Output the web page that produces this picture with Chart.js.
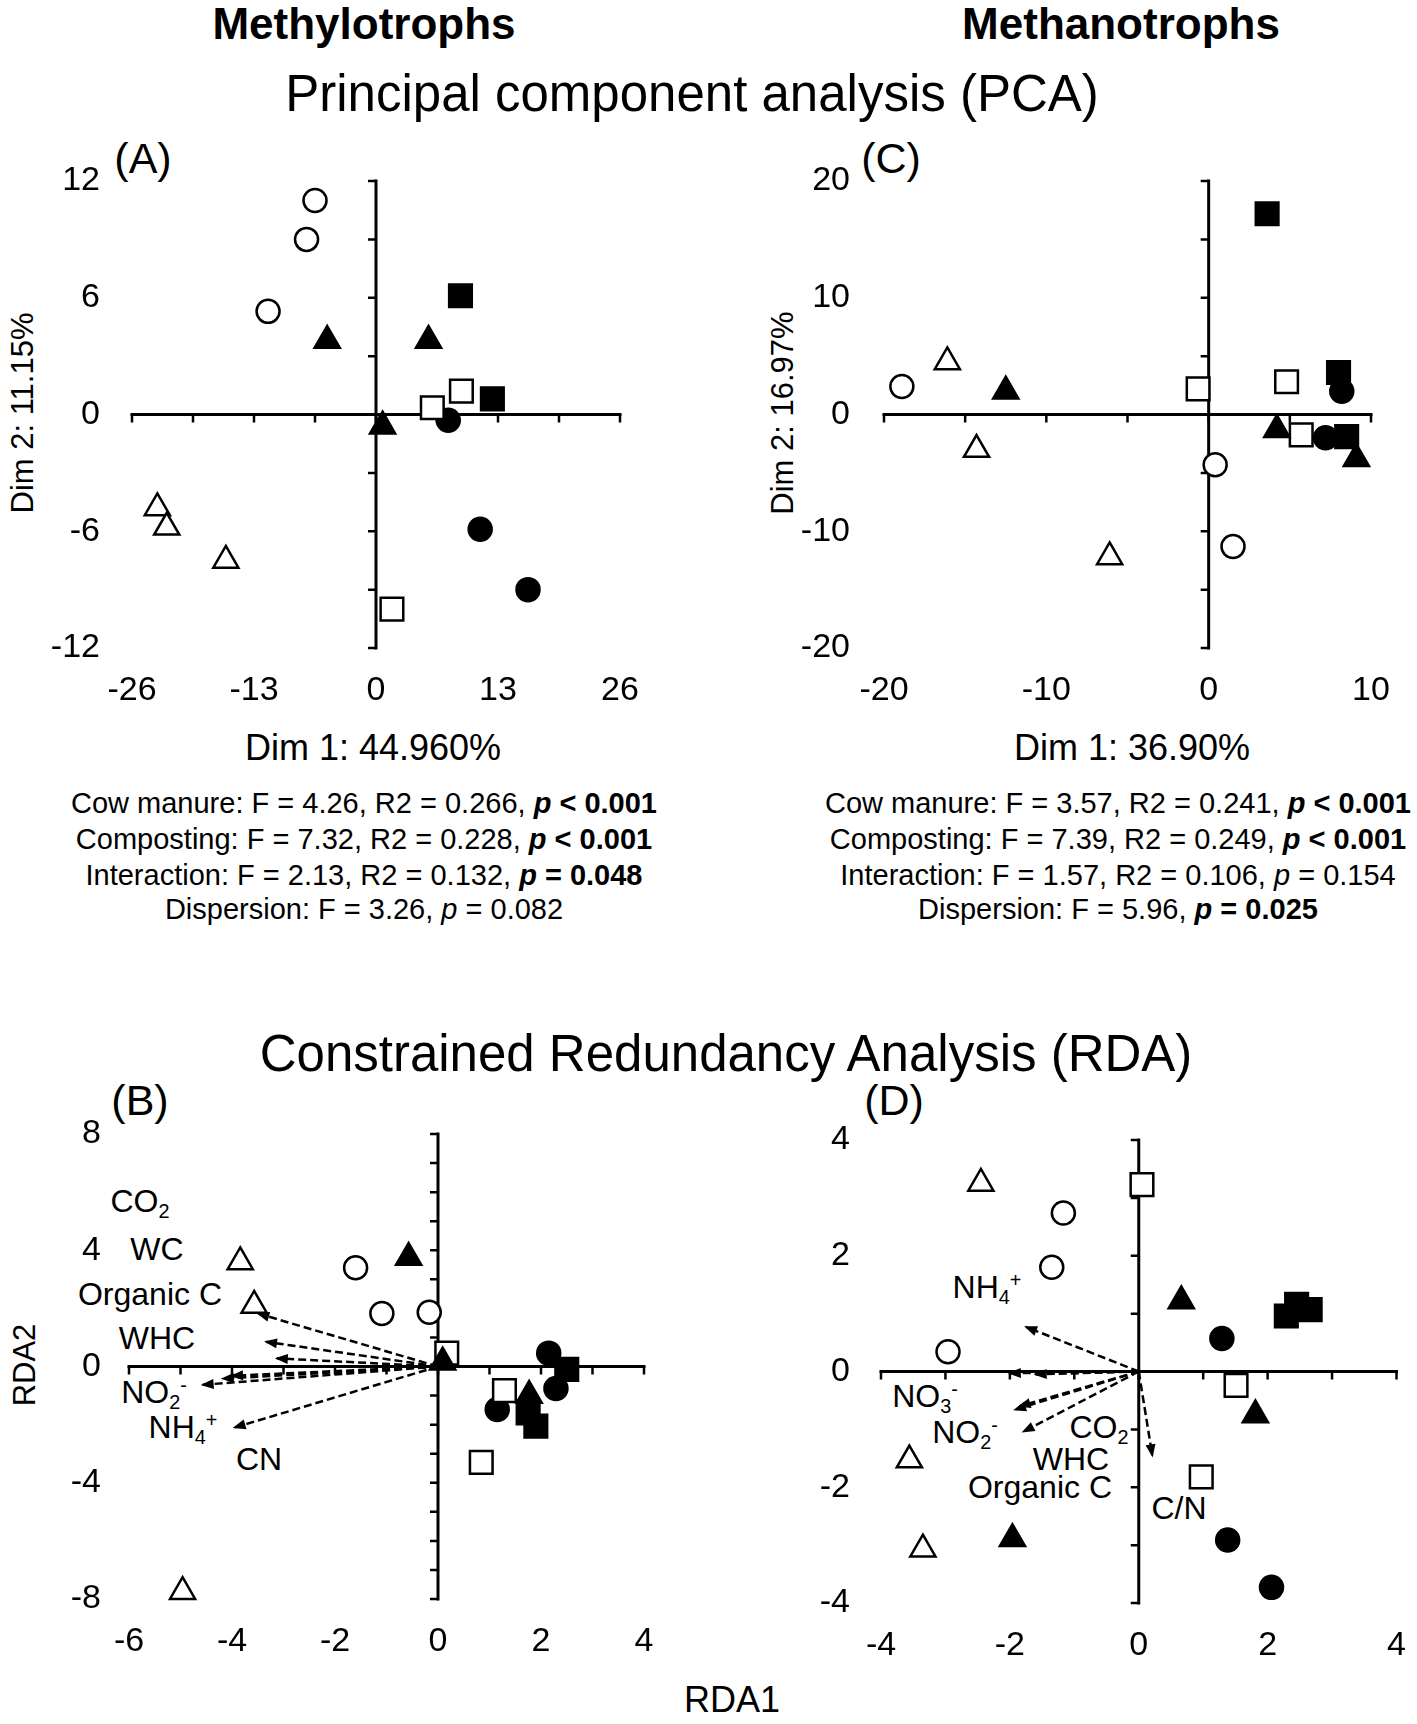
<!DOCTYPE html>
<html>
<head>
<meta charset="utf-8">
<script src="https://cdn.jsdelivr.net/npm/chart.js@4.4.1/dist/chart.umd.min.js"></script>
<style>
html,body{margin:0;padding:0;background:#fff;}
body{width:1417px;height:1724px;position:relative;overflow:hidden;font-family:"Liberation Sans",Arial,Helvetica,sans-serif;color:#000;}
.t{position:absolute;white-space:nowrap;transform:translate(-50%,-50%);line-height:1;}
.rot{transform:translate(-50%,-50%) rotate(-90deg);}
canvas{position:absolute;}
.sb{font-size:0.62em;position:relative;top:0.32em;}
.sp{font-size:0.62em;position:relative;top:-0.55em;}
.h{font-weight:bold;font-size:44px;}
.ttl{font-size:51px;}
.pl{font-size:43px;}
.ax{font-size:36px;}
.ay{font-size:31px;}
.st{font-size:29px;}
.lb{font-size:32px;}
</style>
</head>
<body>

<div class="t h" style="left:364px;top:24px;">Methylotrophs</div>
<div class="t h" style="left:1121px;top:24px;">Methanotrophs</div>
<div class="t ttl" style="left:692px;top:93px;">Principal component analysis (PCA)</div>
<div class="t ttl" style="left:726px;top:1053px;">Constrained Redundancy Analysis (RDA)</div>

<div class="t pl" style="left:143px;top:158px;">(A)</div>
<div class="t pl" style="left:891px;top:158px;">(C)</div>
<div class="t pl" style="left:140px;top:1100px;">(B)</div>
<div class="t pl" style="left:894px;top:1100px;">(D)</div>

<div class="t ay rot" style="left:22px;top:413px;">Dim 2: 11.15%</div>
<div class="t ay rot" style="left:782px;top:413px;">Dim 2: 16.97%</div>
<div class="t ax" style="left:373px;top:748px;">Dim 1: 44.960%</div>
<div class="t ax" style="left:1132px;top:748px;">Dim 1: 36.90%</div>

<div class="t st" style="left:364px;top:803px;">Cow manure: F = 4.26, R2 = 0.266, <b><i>p</i> &lt; 0.001</b></div>
<div class="t st" style="left:364px;top:839px;">Composting: F = 7.32, R2 = 0.228, <b><i>p</i> &lt; 0.001</b></div>
<div class="t st" style="left:364px;top:875px;">Interaction: F = 2.13, R2 = 0.132, <b><i>p</i> = 0.048</b></div>
<div class="t st" style="left:364px;top:909px;">Dispersion: F = 3.26, <i>p</i> = 0.082</div>

<div class="t st" style="left:1118px;top:803px;">Cow manure: F = 3.57, R2 = 0.241, <b><i>p</i> &lt; 0.001</b></div>
<div class="t st" style="left:1118px;top:839px;">Composting: F = 7.39, R2 = 0.249, <b><i>p</i> &lt; 0.001</b></div>
<div class="t st" style="left:1118px;top:875px;">Interaction: F = 1.57, R2 = 0.106, <i>p</i> = 0.154</div>
<div class="t st" style="left:1118px;top:909px;">Dispersion: F = 5.96, <b><i>p</i> = 0.025</b></div>

<div class="t ay rot" style="left:24px;top:1365px;">RDA2</div>
<div class="t ax" style="left:732px;top:1700px;">RDA1</div>

<div class="t lb" style="left:140px;top:1201px;">CO<span class="sb">2</span></div>
<div class="t lb" style="left:157px;top:1249px;">WC</div>
<div class="t lb" style="left:150px;top:1294px;">Organic C</div>
<div class="t lb" style="left:157px;top:1338px;">WHC</div>
<div class="t lb" style="left:154px;top:1392px;">NO<span class="sb">2</span><span class="sp">-</span></div>
<div class="t lb" style="left:183px;top:1427px;">NH<span class="sb">4</span><span class="sp">+</span></div>
<div class="t lb" style="left:259px;top:1459px;">CN</div>

<div class="t lb" style="left:987px;top:1287px;">NH<span class="sb">4</span><span class="sp">+</span></div>
<div class="t lb" style="left:925px;top:1396px;">NO<span class="sb">3</span><span class="sp">-</span></div>
<div class="t lb" style="left:965px;top:1432px;">NO<span class="sb">2</span><span class="sp">-</span></div>
<div class="t lb" style="left:1099px;top:1427px;">CO<span class="sb">2</span></div>
<div class="t lb" style="left:1071px;top:1459px;">WHC</div>
<div class="t lb" style="left:1040px;top:1487px;">Organic C</div>
<div class="t lb" style="left:1179px;top:1508px;">C/N</div>

<canvas id="cA" width="650" height="551" style="left:0px;top:157px;"></canvas>
<canvas id="cC" width="711" height="551" style="left:690px;top:157px;"></canvas>
<canvas id="cB" width="674" height="549" style="left:0px;top:1110px;"></canvas>
<canvas id="cD" width="725" height="547" style="left:690px;top:1116px;"></canvas>

<script>
// ---------------- DATA ----------------
// Panel A: PCA, Methylotrophs
const A_X_TICKS = [-26, -13, 0, 13, 26];
const A_Y_TICKS = [-12, -6, 0, 6, 12];
const A_openCircle   = [[-6.5, 11.0], [-7.4, 9.0], [-11.5, 5.3]];
const A_filledTri    = [[-5.2, 3.8], [5.6, 3.8], [0.7, -0.6]];
const A_filledSquare = [[9.0, 6.1], [12.4, 0.8]];
const A_openSquare   = [[6.0, 0.35], [9.1, 1.2], [1.7, -10.0]];
const A_filledCircle = [[7.7, -0.3], [11.1, -5.9], [16.2, -9.0]];
const A_openTri      = [[-23.3, -4.8], [-22.3, -5.8], [-16.0, -7.5]];

// Panel C: PCA, Methanotrophs
const C_X_TICKS = [-20, -10, 0, 10];
const C_Y_TICKS = [-20, -10, 0, 10, 20];
const C_openCircle   = [[-18.9, 2.4], [0.4, -4.3], [1.5, -11.3]];
const C_filledTri    = [[-12.5, 2.0], [4.2, -1.3], [9.1, -3.8]];
const C_filledSquare = [[3.6, 17.2], [8.0, 3.6], [8.5, -1.9]];
const C_openSquare   = [[-0.65, 2.2], [4.8, 2.8], [5.7, -1.75]];
const C_filledCircle = [[8.2, 2.0], [7.2, -2.0]];
const C_openTri      = [[-16.1, 4.5], [-14.3, -3.0], [-6.1, -12.2]];

// Panel B: RDA, Methylotrophs
const B_X_TICKS = [-6, -4, -2, 0, 2, 4];
const B_Y_TICKS = [-8, -4, 0, 4, 8];
const B_openCircle   = [[-1.6, 3.4], [-1.09, 1.82], [-0.17, 1.87]];
const B_filledTri    = [[-0.57, 3.75], [0.09, 0.15], [1.77, -1.0]];
const B_filledSquare = [[2.5, -0.1], [1.75, -1.6], [1.9, -2.05]];
const B_openSquare   = [[0.17, 0.46], [1.29, -0.83], [0.84, -3.3]];
const B_filledCircle = [[2.15, 0.46], [2.29, -0.76], [1.15, -1.48]];
const B_openTri      = [[-3.84, 3.6], [-3.57, 2.1], [-4.96, -7.75]];
const B_arrows       = [[-3.49, 1.82], [-3.34, 0.85], [-3.13, 0.28], [-4.18, -0.42], [-4.0, -0.32], [-4.57, -0.63], [-3.95, -2.1]];

// Panel D: RDA, Methanotrophs
const D_X_TICKS = [-4, -2, 0, 2, 4];
const D_Y_TICKS = [-4, -2, 0, 2, 4];
const D_openCircle   = [[-1.17, 2.74], [-1.35, 1.8], [-2.96, 0.34]];
const D_filledTri    = [[0.66, 1.22], [1.81, -0.75], [-1.96, -2.89]];
const D_filledSquare = [[2.29, 0.96], [2.45, 1.16], [2.66, 1.07]];
const D_openSquare   = [[0.05, 3.23], [1.51, -0.24], [0.97, -1.82]];
const D_filledCircle = [[1.29, 0.57], [1.38, -2.91], [2.06, -3.73]];
const D_openTri      = [[-2.45, 3.25], [-3.56, -1.53], [-3.35, -3.07]];
const D_arrows       = [[-1.75, 0.77], [-2.0, -0.03], [-1.6, -0.05], [-1.92, -0.66], [-1.85, -0.6], [-1.79, -1.04], [0.21, -1.45]];

// ---------------- RENDERING ----------------
const FONT = '"Liberation Sans", Arial, Helvetica, sans-serif';

const MARK = {
  openCircle:   {pointStyle: 'circle',   radius: 11.5, fill: '#ffffff'},
  filledCircle: {pointStyle: 'circle',   radius: 11.5, fill: '#000000'},
  openSquare:   {pointStyle: 'rect',     radius: 16,   fill: '#ffffff'},
  filledSquare: {pointStyle: 'rect',     radius: 16,   fill: '#000000'},
  openTri:      {pointStyle: 'triangle', radius: 14.5, fill: '#ffffff'},
  filledTri:    {pointStyle: 'triangle', radius: 14.5, fill: '#000000'}
};

const crossAxes = {
  id: 'crossAxes',
  beforeDatasetsDraw(chart, args, opts) {
    const {ctx, scales: {x, y}} = chart;
    const x0 = x.getPixelForValue(0), y0 = y.getPixelForValue(0);
    ctx.save();
    ctx.strokeStyle = '#000';
    ctx.lineWidth = 3;
    ctx.beginPath();
    ctx.moveTo(x.getPixelForValue(x.min) - 1.5, y0);
    ctx.lineTo(x.getPixelForValue(x.max) + 1.5, y0);
    ctx.moveTo(x0, y.getPixelForValue(y.max) - 1.5);
    ctx.lineTo(x0, y.getPixelForValue(y.min) + 1.5);
    ctx.stroke();
    ctx.lineWidth = 2.5;
    ctx.beginPath();
    const n1 = Math.round((x.max - x.min) / opts.xStep);
    for (let i = 0; i <= n1; i++) {
      const px = x.getPixelForValue(x.min + i * opts.xStep);
      ctx.moveTo(px, y0); ctx.lineTo(px, y0 + 8);
    }
    const n2 = Math.round((y.max - y.min) / opts.yStep);
    for (let i = 0; i <= n2; i++) {
      const py = y.getPixelForValue(y.min + i * opts.yStep);
      ctx.moveTo(x0, py); ctx.lineTo(x0 - 8, py);
    }
    ctx.stroke();
    ctx.restore();
  },
  afterDatasetsDraw(chart) {
    const ctx = chart.ctx;
    chart.data.datasets.forEach((ds, i) => {
      if (!ds.isArrow) return;
      const pts = chart.getDatasetMeta(i).data;
      const a = pts[0], b = pts[1];
      const ang = Math.atan2(b.y - a.y, b.x - a.x);
      const L = 11, W = 5;
      const c = Math.cos(ang), s = Math.sin(ang);
      ctx.save();
      ctx.fillStyle = '#000';
      ctx.beginPath();
      ctx.moveTo(b.x + c * 2, b.y + s * 2);
      ctx.lineTo(b.x - L * c - W * s, b.y - L * s + W * c);
      ctx.lineTo(b.x - L * c + W * s, b.y - L * s - W * c);
      ctx.closePath();
      ctx.fill();
      ctx.restore();
    });
  }
};

function toPts(arr) { return arr.map(p => ({x: p[0], y: p[1]})); }

function makePanel(id, cfg) {
  const datasets = [];
  (cfg.arrows || []).forEach(a => {
    datasets.push({
      data: [{x: 0, y: 0}, {x: a[0], y: a[1]}],
      showLine: true, isArrow: true,
      borderColor: '#000', borderWidth: 2.5, borderDash: [8, 4],
      pointRadius: 0, order: 10, clip: false
    });
  });
  Object.keys(cfg.groups).forEach(k => {
    const m = MARK[k];
    datasets.push({
      data: toPts(cfg.groups[k]),
      pointStyle: m.pointStyle, pointRadius: m.radius,
      backgroundColor: m.fill, borderColor: '#000', borderWidth: 2.5,
      showLine: false, order: 1, clip: false
    });
  });
  new Chart(document.getElementById(id), {
    type: 'scatter',
    data: {datasets},
    plugins: [crossAxes],
    options: {
      responsive: false, animation: false, devicePixelRatio: 1,
      layout: {padding: {top: 24, right: cfg.padR, left: 0, bottom: 0}},
      plugins: {legend: {display: false}, tooltip: {enabled: false},
                crossAxes: {xStep: cfg.xStep, yStep: cfg.yStep}},
      scales: {
        x: {
          type: 'linear', position: 'bottom', min: cfg.xTicks[0], max: cfg.xTicks[cfg.xTicks.length - 1],
          grid: {display: false, drawTicks: false}, border: {display: false},
          afterBuildTicks: s => { s.ticks = cfg.xTicks.map(v => ({value: v})); },
          afterFit: s => { s.height = 60; s.paddingLeft = 0; s.paddingRight = 0; },
          ticks: {padding: cfg.xPad, color: '#000', font: {family: FONT, size: 34}, autoSkip: false,
                  maxRotation: 0, minRotation: 0, callback: v => String(v)}
        },
        y: {
          type: 'linear', position: 'left', min: cfg.yTicks[0], max: cfg.yTicks[cfg.yTicks.length - 1],
          grid: {display: false, drawTicks: false}, border: {display: false},
          afterBuildTicks: s => { s.ticks = cfg.yTicks.map(v => ({value: v})); },
          afterFit: s => { s.width = cfg.yW; s.paddingTop = 0; s.paddingBottom = 0; },
          ticks: {padding: cfg.yPad, color: '#000', font: {family: FONT, size: 34}, autoSkip: false,
                  callback: v => String(v)}
        }
      }
    }
  });
}

makePanel('cA', {
  xTicks: A_X_TICKS, yTicks: A_Y_TICKS, xStep: 6.5, yStep: 3, yW: 132, padR: 30, xPad: 22, yPad: 32,
  groups: {openCircle: A_openCircle, filledTri: A_filledTri, filledSquare: A_filledSquare,
           openSquare: A_openSquare, filledCircle: A_filledCircle, openTri: A_openTri}
});
makePanel('cC', {
  xTicks: C_X_TICKS, yTicks: C_Y_TICKS, xStep: 5, yStep: 5, yW: 194, padR: 30, xPad: 22, yPad: 34,
  groups: {openCircle: C_openCircle, filledTri: C_filledTri, filledSquare: C_filledSquare,
           openSquare: C_openSquare, filledCircle: C_filledCircle, openTri: C_openTri}
});
makePanel('cB', {
  xTicks: B_X_TICKS, yTicks: B_Y_TICKS, xStep: 1, yStep: 1, yW: 129, padR: 30, xPad: 22, yPad: 28,
  arrows: B_arrows,
  groups: {openCircle: B_openCircle, filledTri: B_filledTri, filledSquare: B_filledSquare,
           openSquare: B_openSquare, filledCircle: B_filledCircle, openTri: B_openTri}
});
makePanel('cD', {
  xTicks: D_X_TICKS, yTicks: D_Y_TICKS, xStep: 1, yStep: 1, yW: 191, padR: 14, xPad: 22, yPad: 31,
  arrows: D_arrows,
  groups: {openCircle: D_openCircle, filledTri: D_filledTri, filledSquare: D_filledSquare,
           openSquare: D_openSquare, filledCircle: D_filledCircle, openTri: D_openTri}
});
</script>
</body>
</html>
